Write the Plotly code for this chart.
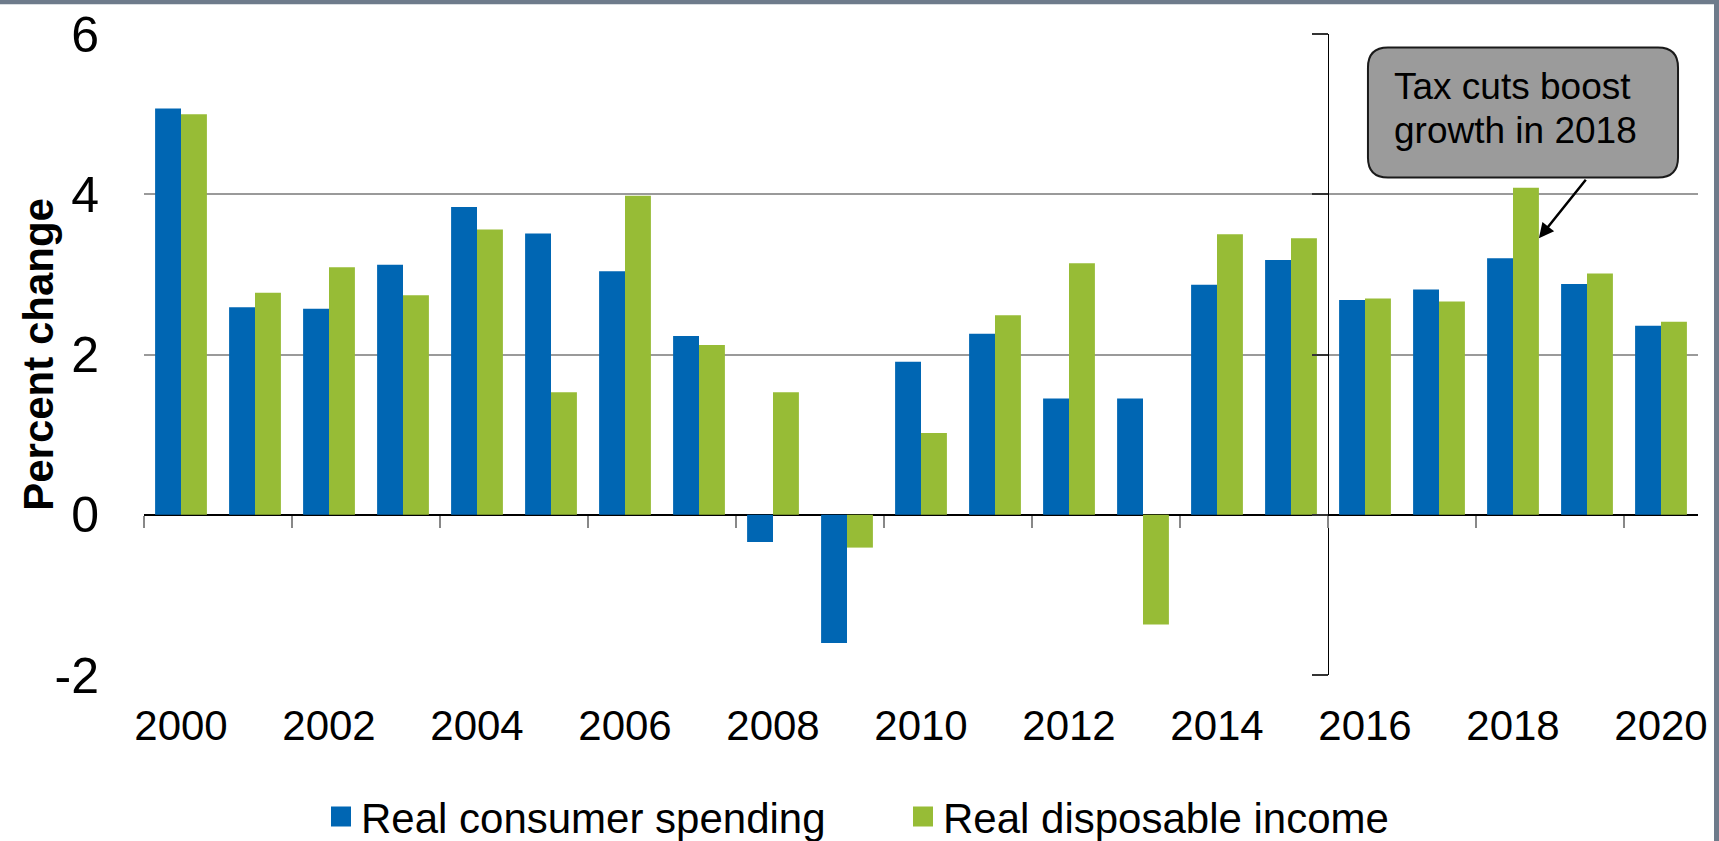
import plotly.graph_objects as go

years = list(range(2000, 2021))
spending = [5.07, 2.59, 2.57, 3.12, 3.84, 3.51, 3.04, 2.23, -0.34, -1.60, 1.91,
            2.26, 1.45, 1.45, 2.87, 3.18, 2.68, 2.81, 3.20, 2.88, 2.36]
income = [5.00, 2.77, 3.09, 2.74, 3.56, 1.53, 3.98, 2.12, 1.53, -0.41, 1.02,
          2.49, 3.14, -1.37, 3.50, 3.45, 2.70, 2.66, 4.08, 3.01, 2.41]
year_labels = [str(y) for y in range(2000, 2021, 2)]
y_ticks = [-2, 0, 2, 4, 6]
y_labels = ["-2", "0", "2", "4", "6"]
note_lines = ["Tax cuts boost", "growth in 2018"]

BLUE = "#0066B3"
GREEN = "#97BC36"
FONT = "Arial, Liberation Sans, sans-serif"

x_rng = [years[0] - 0.5, years[-1] + 0.5]
y_rng = [-2, 6]

fig = go.Figure()
fig.add_trace(go.Bar(x=years, y=spending, name="Real consumer spending",
                     marker=dict(color=BLUE, line=dict(width=0)), showlegend=False))
fig.add_trace(go.Bar(x=years, y=income, name="Real disposable income",
                     marker=dict(color=GREEN, line=dict(width=0)), showlegend=False))

# legend entries with bigger squares
for nm, col in [("Real consumer spending", BLUE), ("Real disposable income", GREEN)]:
    fig.add_trace(go.Scatter(x=[None], y=[None], mode="markers", name=nm,
                             marker=dict(symbol="square", size=16, color=col,
                                         line=dict(color=col, width=4))))

# helper trace so the overlay axes (ticks on zero line, divider) get drawn
fig.add_trace(go.Scatter(x=[None], y=[None], xaxis="x2", yaxis="y2",
                         showlegend=False, hoverinfo="skip"))

# divider between history and forecast
div_pos = (2015.5 - x_rng[0]) / (x_rng[1] - x_rng[0])
zero_pos = (0 - y_rng[0]) / (y_rng[1] - y_rng[0])

fig.update_layout(
    width=1719, height=841,
    margin=dict(l=144, r=21, t=34, b=166, autoexpand=False),
    paper_bgcolor="white", plot_bgcolor="white",
    barmode="group", bargap=0.3, bargroupgap=0,
    font=dict(family=FONT, color="black"),
    xaxis=dict(range=x_rng, tickvals=list(range(2000, 2021, 2)), ticktext=year_labels,
               ticks="", showgrid=False, zeroline=False, showline=False,
               tickfont=dict(size=42), ticklabelstandoff=22),
    yaxis=dict(range=y_rng, tickvals=y_ticks, ticktext=y_labels, showgrid=True,
               gridcolor="#9a9a9a", gridwidth=2, zeroline=True, zerolinecolor="black",
               zerolinewidth=1.5, showline=False, ticks="", tickfont=dict(size=50),
               ticklabelstandoff=44),
    xaxis2=dict(range=x_rng, overlaying="x", anchor="free", position=zero_pos,
                tickvals=[y - 0.5 for y in range(2000, 2021, 2)], ticks="outside",
                ticklen=12, tickwidth=1.5, tickcolor="#888888", showticklabels=False,
                showgrid=False, zeroline=False, showline=False),
    yaxis2=dict(range=y_rng, overlaying="y", anchor="free", position=div_pos, side="left",
                tickvals=y_ticks, ticks="outside", ticklen=16, tickwidth=1.5,
                tickcolor="#333333", showticklabels=False, showgrid=False, zeroline=False,
                showline=True, linecolor="black", linewidth=1),
    legend=dict(orientation="h", x=0.4884, xanchor="center", y=-0.221, yanchor="middle",
                font=dict(size=42), itemsizing="trace", bgcolor="rgba(0,0,0,0)",
                entrywidth=537),
    showlegend=True,
)

# y axis title
fig.add_annotation(text="Percent change", xref="paper", yref="paper",
                   x=-0.068, y=0.5, xanchor="center", yanchor="middle",
                   textangle=-90, showarrow=False,
                   font=dict(size=42, family=FONT, weight="bold", color="black"))

# rounded callout box
bx0, bx1, by0, by1 = 2016.04, 2020.23, 4.21, 5.83
rx, ry = 0.27, 0.25
path = (f"M {bx0 + rx},{by1} L {bx1 - rx},{by1} Q {bx1},{by1} {bx1},{by1 - ry} "
        f"L {bx1},{by0 + ry} Q {bx1},{by0} {bx1 - rx},{by0} L {bx0 + rx},{by0} "
        f"Q {bx0},{by0} {bx0},{by0 + ry} L {bx0},{by1 - ry} Q {bx0},{by1} {bx0 + rx},{by1} Z")
fig.add_shape(type="path", path=path, xref="x", yref="y",
              fillcolor="#9b9b9b", line=dict(color="#1a1a1a", width=2))
for line_txt, ly in zip(note_lines, [5.345, 4.79]):
    fig.add_annotation(text=line_txt, x=2016.37, y=ly, xref="x", yref="y",
                       xanchor="left", yanchor="middle", showarrow=False,
                       font=dict(size=37, family=FONT, color="black"))
fig.add_annotation(text="", x=2018.35, y=3.45, ax=2019.0, ay=4.20, axref="x", ayref="y",
                   xref="x", yref="y", showarrow=True, arrowhead=2, arrowsize=1.2,
                   arrowwidth=2.5, arrowcolor="black")

# frame bands at top and right
fig.add_shape(type="rect", xref="paper", yref="paper", x0=-0.2, x1=1.1,
              y0=(675 - 4) / 641.3, y1=1.2, fillcolor="#6e7b8b", line=dict(width=0),
              layer="above")
fig.add_shape(type="rect", xref="paper", yref="paper", x0=(1714 - 144) / 1554, x1=1.1,
              y0=-0.5, y1=1.2, fillcolor="#6e7b8b", line=dict(width=0), layer="above")

# page body has a default 8px margin; drop it so the figure sits at the window origin
fig.write_html("out.html", config={"displayModeBar": False},
               post_script="document.body.style.margin = '0';")
